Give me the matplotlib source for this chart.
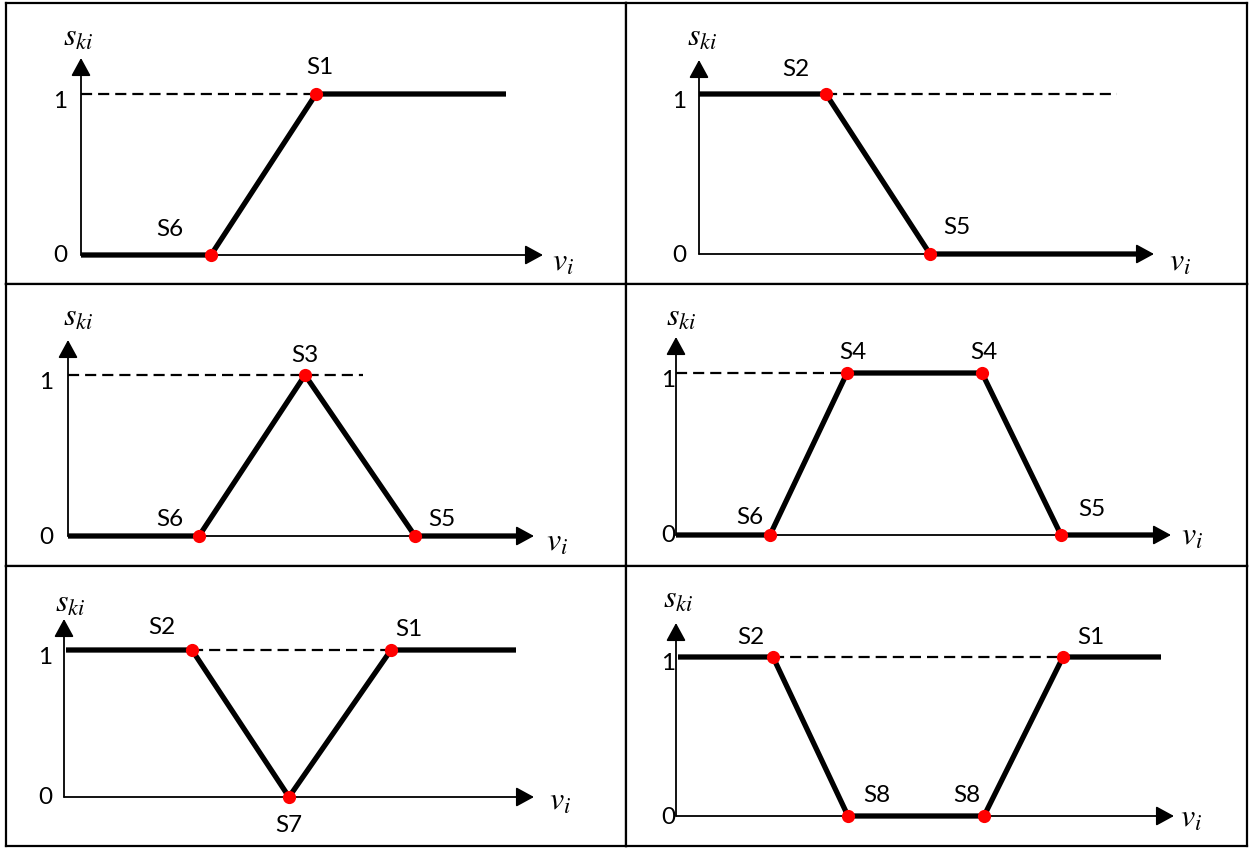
import matplotlib.pyplot as plt

plt.rcParams["mathtext.fontset"] = "stix"

W, H = 1249, 848

# breakpoints of each membership curve (x measured from the s_ki axis, y = 0 / 1)
p1_x = [0, 130, 235, 425]
p1_y = [0, 0, 1, 1]
p1_pts = [1, 2]
p1_names = ["S6", "S1"]

p2_x = [0, 127, 231, 446]
p2_y = [1, 1, 0, 0]
p2_pts = [1, 2]
p2_names = ["S2", "S5"]

p3_x = [0, 131, 237, 347, 452]
p3_y = [0, 0, 1, 0, 0]
p3_pts = [1, 2, 3]
p3_names = ["S6", "S3", "S5"]

p4_x = [0, 94, 171, 306, 385, 480]
p4_y = [0, 0, 1, 1, 0, 0]
p4_pts = [1, 2, 3, 4]
p4_names = ["S6", "S4", "S4", "S5"]

p5_x = [2, 128, 225, 327, 452]
p5_y = [1, 1, 0, 1, 1]
p5_pts = [1, 2, 3]
p5_names = ["S2", "S7", "S1"]

p6_x = [2, 97, 172, 308, 387, 485]
p6_y = [1, 1, 0, 0, 1, 1]
p6_pts = [1, 2, 3, 4]
p6_names = ["S2", "S8", "S8", "S1"]

# dashed "1" reference line: start, end
p1_dash = [0, 235]
p2_dash = [127, 418]
p3_dash = [0, 295]
p4_dash = [0, 171]
p5_dash = [128, 327]
p6_dash = [97, 387]

# layout of each table cell (pixels)
panels = [
    dict(x=p1_x, y=p1_y, pts=p1_pts, names=p1_names, dash=p1_dash,
         cell=(6, 3, 626, 284), ax0=81, zero=255, one=94, xtip=462, ytip=58,
         offs=[(-41, 25), (4, 26)], tick_dx=-21, sk=(-3, 21), vi=(20, -7)),
    dict(x=p2_x, y=p2_y, pts=p2_pts, names=p2_names, dash=p2_dash,
         cell=(626, 3, 1247, 284), ax0=699, zero=254, one=94, xtip=455, ytip=60,
         offs=[(-30, 25), (27, 26)], tick_dx=-20, sk=(3, 23), vi=(26, -8)),
    dict(x=p3_x, y=p3_y, pts=p3_pts, names=p3_names, dash=p3_dash,
         cell=(6, 284, 626, 566), ax0=68, zero=536, one=375, xtip=466, ytip=340,
         offs=[(-29, 16), (0, 20), (27, 16)], tick_dx=-22, sk=(10, 23), vi=(23, -6)),
    dict(x=p4_x, y=p4_y, pts=p4_pts, names=p4_names, dash=p4_dash,
         cell=(626, 284, 1247, 566), ax0=676, zero=535, one=373, xtip=495, ytip=337,
         offs=[(-20, 18), (6, 21), (2, 21), (31, 25)], tick_dx=-8, sk=(5, 20), vi=(21, -1)),
    dict(x=p5_x, y=p5_y, pts=p5_pts, names=p5_names, dash=p5_dash,
         cell=(6, 566, 626, 846), ax0=64, zero=797, one=650, xtip=470, ytip=619,
         offs=[(-30, 22), (0, -28), (18, 21)], tick_dx=-19, sk=(6, 16), vi=(26, -4)),
    dict(x=p6_x, y=p6_y, pts=p6_pts, names=p6_names, dash=p6_dash,
         cell=(626, 566, 1247, 846), ax0=676, zero=816, one=657, xtip=498, ytip=623,
         offs=[(-22, 19), (29, 20), (-17, 20), (28, 19)], tick_dx=-8, sk=(2, 24), vi=(17, -2)),
]

label_font = "Lato"
fig = plt.figure(figsize=(W / 100, H / 100), dpi=100)
fig.patch.set_facecolor("white")

for p in panels:
    l, t, r, b = p["cell"]
    ax = fig.add_axes([l / W, 1 - b / H, (r - l) / W, (b - t) / H])
    scale = p["zero"] - p["one"]
    ax.set_xlim(l - p["ax0"], r - p["ax0"])
    ax.set_ylim((p["zero"] - b) / scale, (p["zero"] - t) / scale)
    ax.set_xticks([])
    ax.set_yticks([])
    for s in ax.spines.values():
        s.set_linewidth(1.6)
        s.set_color("black")

    ytip = (p["zero"] - p["ytip"]) / scale
    arrow = dict(arrowstyle="-|>,head_length=0.55,head_width=0.3", lw=1.3,
                 color="black", mutation_scale=20, shrinkA=0, shrinkB=0)
    # axes with arrow heads
    ax.annotate("", xy=(p["xtip"], 0), xytext=(0, 0), arrowprops=arrow)
    ax.annotate("", xy=(0, ytip), xytext=(0, 0), arrowprops=arrow)

    # dashed level line
    ax.plot(p["dash"], [1, 1], color="black", lw=1.6, dashes=(5, 2.7))

    # membership curve
    ax.plot(p["x"], p["y"], color="black", lw=3.8, solid_capstyle="butt",
            solid_joinstyle="miter", zorder=3)

    # red break points and their names
    for i, name, off in zip(p["pts"], p["names"], p["offs"]):
        ax.plot(p["x"][i], p["y"][i], "o", color="#ff0000", ms=9.5, mec="none", zorder=4)
        ax.annotate(name, (p["x"][i], p["y"][i]), xytext=off, textcoords="offset pixels",
                    ha="center", va="center", fontsize=17.5, family=label_font)

    # tick labels 0 / 1
    ax.annotate("1", (0, 1), xytext=(p["tick_dx"], -7), textcoords="offset pixels",
                ha="center", va="center", fontsize=17.5, family=label_font)
    ax.annotate("0", (0, 0), xytext=(p["tick_dx"], -1), textcoords="offset pixels",
                ha="center", va="center", fontsize=17.5, family=label_font)

    # axis names
    ax.annotate(r"$s_{ki}$", (0, ytip), xytext=p["sk"], textcoords="offset pixels",
                ha="center", va="center", fontsize=23)
    ax.annotate(r"$v_i$", (p["xtip"], 0), xytext=p["vi"], textcoords="offset pixels",
                ha="center", va="center", fontsize=23)

fig.savefig("out.png", dpi=100, facecolor="white")
